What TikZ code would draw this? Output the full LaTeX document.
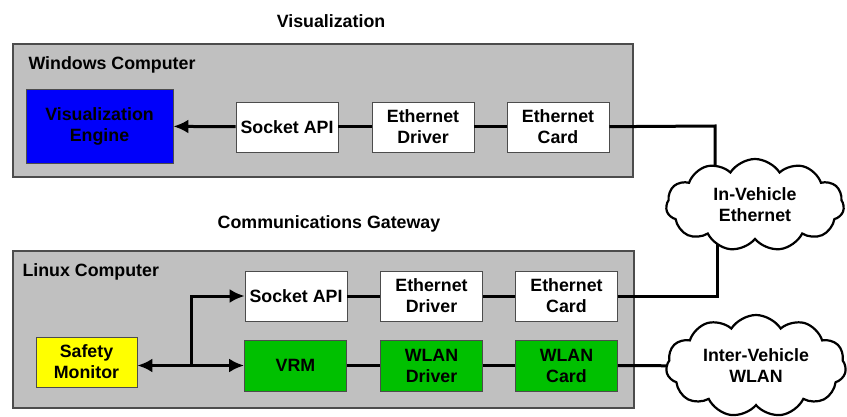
\documentclass[tikz,border=0pt]{standalone}
\usepackage{fontspec}
\setmainfont{Liberation Sans}
\usepackage{tikz}
\usetikzlibrary{shapes.symbols, arrows.meta}

\definecolor{boxgray}{RGB}{192,192,192}
\definecolor{engblue}{RGB}{0,0,250}
\definecolor{wlangreen}{RGB}{0,192,0}
\definecolor{monyellow}{RGB}{255,255,0}

\begin{document}
\begin{tikzpicture}[x=1pt, y=-1pt, font=\bfseries\fontsize{17.8}{21}\selectfont]
    \tikzstyle{arrow} = [line width=3pt,-{Latex[length=15pt,width=14pt]}]
    \tikzstyle{link} = [line width=3pt]
    \tikzstyle{computer} = [rectangle, draw=black!70, line width=1.2pt, fill=boxgray, inner sep=0pt]
    \tikzstyle{block} = [rectangle, minimum width=102pt, minimum height=50pt, align=center, draw=black!70, line width=0.8pt, fill=white, inner sep=0pt]
    \tikzstyle{net} = [cloud, cloud puffs=11, cloud puff arc=115, cloud ignores aspect, draw=black, line width=2.2pt, fill=white, align=center, inner sep=0pt]
    \useasboundingbox (0,0) rectangle (847,417);

    % visualization side
    \node (vis-title) at (331,21) {Visualization};
    \node (win) [computer, minimum width=620pt, minimum height=133pt] at (323,110.5) {};
    \node (win-label) [anchor=west] at (25,65) {Windows Computer};
    \node (viseng) [block, fill=engblue, minimum width=147pt, minimum height=74pt] at (99.5,126) {Visualization\\Engine};
    \node (sock-a) [block] at (287,127) {Socket API};
    \node (ethdrv-a) [block] at (423,127) {Ethernet\\Driver};
    \node (ethcard-a) [block] at (558,127) {Ethernet\\Card};

    % gateway side
    \node (gw-title) at (329,224) {Communications Gateway};
    \node (lin) [computer, minimum width=621pt, minimum height=157pt] at (323.5,329.5) {};
    \node (lin-label) [anchor=west] at (19,272) {Linux Computer};
    \node (sock-b) [block] at (296,296) {Socket API};
    \node (ethdrv-b) [block] at (431.5,296) {Ethernet\\Driver};
    \node (ethcard-b) [block] at (566.5,296) {Ethernet\\Card};
    \node (safety) [block, fill=monyellow, minimum width=101pt] at (86.5,362) {Safety\\Monitor};
    \node (vrm) [block, fill=wlangreen, minimum height=51pt] at (295.5,365.5) {VRM};
    \node (wlandrv) [block, fill=wlangreen, minimum height=51pt] at (431.5,365.5) {WLAN\\Driver};
    \node (wlancard) [block, fill=wlangreen, minimum height=51pt] at (566.5,365.5) {WLAN\\Card};

    \coordinate (eth-top) at (715,126);
    \coordinate (eth-bot) at (717,296);
    \coordinate (split) at (191,365.5);
    \coordinate (cloud-a) at (755,205);
    \coordinate (cloud-b) at (756,366);

    \draw [arrow] (sock-a) -- (viseng);
    \draw [link] (sock-a) -- (ethdrv-a);
    \draw [link] (ethdrv-a) -- (ethcard-a);
    \draw [link] (ethcard-a) -- (eth-top) -- (eth-top |- cloud-a);
    \draw [link] (sock-b) -- (ethdrv-b);
    \draw [link] (ethdrv-b) -- (ethcard-b);
    \draw [link] (ethcard-b) -- (eth-bot) -- (eth-bot |- cloud-a);
    \draw [link] (vrm) -- (wlandrv);
    \draw [link] (wlandrv) -- (wlancard);
    \draw [link] (wlancard) -- (cloud-b);
    \draw [arrow] (split) -- (split -| safety.east);
    \draw [arrow] (split) -- (vrm);
    \draw [arrow] (split) |- (sock-b);

    % networks
    \node (inveh) [net, minimum width=178pt, minimum height=92pt] at (cloud-a) {In-Vehicle\\Ethernet};
    \node (intveh) [net, minimum width=180pt, minimum height=102pt] at (cloud-b) {Inter-Vehicle\\WLAN};
\end{tikzpicture}
\end{document}
